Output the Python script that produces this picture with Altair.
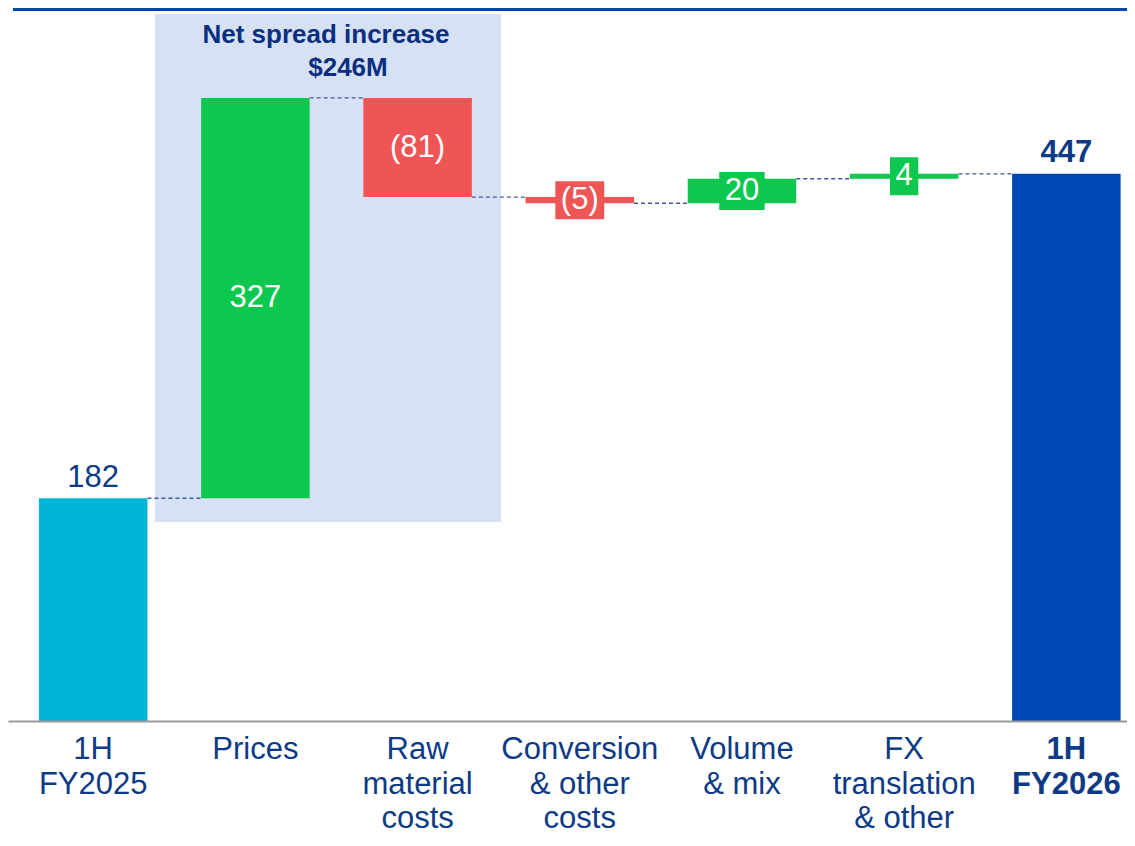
import altair as alt
import pandas as pd

# ---------------- data ----------------
categories = ["1H\nFY2025", "Prices", "Raw\nmaterial\ncosts", "Conversion\n& other\ncosts",
              "Volume\n& mix", "FX\ntranslation\n& other", "1H\nFY2026"]
values = [182, 327, -81, -5, 20, 4, 447]
value_labels = ["182", "327", "(81)", "(5)", "20", "4", "447"]
is_total = [True, False, False, False, False, False, True]

shade_title = ["Net spread increase", "$246M"]

# ---------------- layout / style ----------------
PLOT_W, PLOT_H = 1119, 713
SVG_H = 826
Y_MAX = 582.5
PX = PLOT_H / Y_MAX  # pixels per unit
FONT = "Liberation Sans"
NAVY = "#0D3A86"
colors = {"start": "#00B5D5", "up": "#0CC84E", "down": "#F05555", "end": "#0046B4"}
HALF_BAR = 54.25

rows = []
running = 0
for i, (c, v, lab, tot) in enumerate(zip(categories, values, value_labels, is_total)):
    if tot:
        s, e = 0, v
        running = v
        kind = "start" if i == 0 else "end"
    else:
        s, e = running, running + v
        running = e
        kind = "up" if v > 0 else "down"
    rows.append(dict(cat=c, start=s, end=e, mid=(s + e) / 2, label=lab, kind=kind,
                     color=colors[kind], total=tot, small=(not tot and abs(v) * PX < 30)))
df = pd.DataFrame(rows)

# connectors
con = pd.DataFrame([dict(a=df.cat[i], b=df.cat[i + 1], lvl=df.end[i]) for i in range(len(df) - 1)])

# label boxes for small bars
cw = {"(": 0.333, ")": 0.333}
def text_w(t, fs=31):
    return sum(cw.get(ch, 0.556) for ch in t) * fs
box = df[df.small].copy()
box["boxw"] = box.label.apply(lambda t: text_w(t) + 11)
box["b0"] = box["mid"] - 19 / PX
box["b1"] = box["mid"] + 19 / PX

xscale = alt.Scale(domain=categories, paddingInner=0.331, paddingOuter=0.115, align=0.829)
yscale = alt.Scale(domain=[0, Y_MAX], nice=False, zero=False)

X = alt.X("cat:N", scale=xscale, sort=categories,
          axis=alt.Axis(title=None, labelExpr="split(datum.label, '\\n')", labelFontSize=31,
                        labelFont=FONT, labelColor=NAVY, labelLineHeight=34.5, labelPadding=13.5,
                        labelAlign="center", labelBaseline="top",
                        ticks=False, domainColor="#9A9A9A", domainWidth=2, labelAngle=0,
                        labelLimit=400, labelOverlap=False, labelBound=False, labelFlush=False,
                        labelFontWeight=alt.ExprRef(expr="indexof(datum.value, 'FY2026') >= 0 ? 'bold' : 'normal'")))

base = alt.Chart(df)

shade_df = pd.DataFrame([dict(a="Prices", b="Raw\nmaterial\ncosts", y0=(PLOT_H - 6) / PX, y1=(PLOT_H - 514) / PX)])
shade = alt.Chart(shade_df).mark_rect(color="#D6E2F4", xOffset=-100.4, x2Offset=83.4).encode(
    x=alt.X("a:N", scale=xscale, sort=categories), x2="b:N",
    y=alt.Y("y0:Q", scale=yscale, axis=None), y2="y1:Q")

connectors = alt.Chart(con).mark_rule(color="#3F5A9A", strokeDash=[4, 3], strokeWidth=1.3,
                                      xOffset=HALF_BAR, x2Offset=-HALF_BAR).encode(
    x=alt.X("a:N", scale=xscale, sort=categories), x2="b:N",
    y=alt.Y("lvl:Q", scale=yscale, axis=None))

bars = base.mark_bar().encode(
    x=X,
    y=alt.Y("start:Q", scale=yscale, axis=None), y2="end:Q",
    color=alt.Color("color:N", scale=None))

boxes = alt.Chart(box).mark_bar().encode(
    x=alt.X("cat:N", scale=xscale, sort=categories),
    y=alt.Y("b0:Q", scale=yscale, axis=None), y2="b1:Q",
    size=alt.Size("boxw:Q", scale=None),
    color=alt.Color("color:N", scale=None))

inside = base.transform_filter("!datum.total").mark_text(
    font=FONT, fontSize=31, color="white", baseline="middle").encode(
    x=alt.X("cat:N", scale=xscale, sort=categories),
    y=alt.Y("mid:Q", scale=yscale, axis=None), text="label:N")

top_first = base.transform_filter("datum.kind == 'start'").mark_text(
    font=FONT, fontSize=31, color=NAVY, baseline="alphabetic", dy=-11).encode(
    x=alt.X("cat:N", scale=xscale, sort=categories),
    y=alt.Y("end:Q", scale=yscale, axis=None), text="label:N")

top_last = base.transform_filter("datum.kind == 'end'").mark_text(
    font=FONT, fontSize=31, fontWeight="bold", color=NAVY, baseline="alphabetic", dy=-12).encode(
    x=alt.X("cat:N", scale=xscale, sort=categories),
    y=alt.Y("end:Q", scale=yscale, axis=None), text="label:N")

title_df = pd.DataFrame([dict(cat="Prices", t=shade_title[0], y=(PLOT_H - 35) / PX, dx=70.6),
                         dict(cat="Prices", t=shade_title[1], y=(PLOT_H - 68) / PX, dx=92.6)])
titles = alt.layer(*[
    alt.Chart(title_df.iloc[[k]]).mark_text(
        font=FONT, fontSize=26, fontWeight="bold",
        color="#0A2F80", baseline="alphabetic", dx=float(title_df.dx[k])).encode(
        x=alt.X("cat:N", scale=xscale, sort=categories),
        y=alt.Y("y:Q", scale=yscale, axis=None), text="t:N")
    for k in range(2)])

topline = alt.Chart(df).mark_rule(color="#0046B4", strokeWidth=3).encode(
    x=alt.value(5), x2=alt.value(PLOT_W), y=alt.value(1.5))

chart = alt.layer(shade, connectors, bars, boxes, inside, top_first, top_last, titles, topline).properties(
    width=PLOT_W, height=PLOT_H,
    autosize=alt.AutoSizeParams(type="none"),
    padding={"left": 0, "top": 0, "right": 0, "bottom": SVG_H - PLOT_H},
    background="white",
).configure_view(stroke=None)

chart.save("out.html", embed_options={"renderer": "svg", "actions": False})
